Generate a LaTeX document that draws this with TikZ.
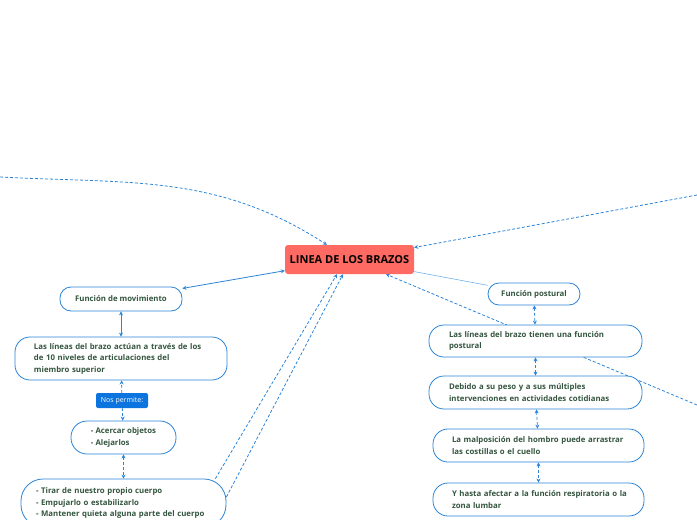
\documentclass[tikz,border=0pt]{standalone}
\usepackage{fontspec}
\setmainfont{Open Sans}
\usetikzlibrary{arrows.meta,positioning,calc,backgrounds}
\definecolor{linkblue}{HTML}{2A84D8}
\definecolor{paleblue}{HTML}{6FB1EC}
\definecolor{nosblue}{HTML}{0B74DE}
\definecolor{titlered}{HTML}{FF6A63}
\definecolor{txtgreen}{HTML}{34553F}

\begin{document}
\begin{tikzpicture}[x=1pt, y=-1pt, >={Stealth[length=4pt,width=4pt]},
    every node/.style={font=\bfseries\fontsize{7.8}{11.5}\selectfont, text=txtgreen},
    box/.style={draw=linkblue, line width=0.8pt, fill=white, rounded corners=15pt, align=left, inner xsep=20pt, inner ysep=0pt},
    pill/.style={draw=linkblue, line width=0.8pt, fill=white, rounded corners=11pt, align=left, inner sep=0pt},
    link/.style={linkblue, line width=0.8pt},
    dlink/.style={linkblue, line width=0.8pt, dash pattern=on 3pt off 2pt}]
    \useasboundingbox (0,0) rectangle (697,520);

    \node[fill=titlered, rounded corners=3pt, minimum width=129pt, minimum height=29pt, inner sep=0pt, text=black, font=\bfseries\fontsize{11}{13}\selectfont] (c) at (349.5,259.5) {LINEA DE LOS BRAZOS};

    % movimiento
    \node[pill, minimum width=122pt, minimum height=24pt] (m0) at (121,299) {Función de movimiento};
    \node[box, inner xsep=19pt, text width=174pt, minimum height=43pt] (m1) at (121,358.5) {Las líneas del brazo actúan a través de los\\de 10 niveles de articulaciones del\\miembro superior};
    \node[fill=nosblue, rounded corners=2pt, minimum width=52pt, minimum height=15pt, inner sep=0pt, text=white, font=\fontsize{7}{8}\selectfont] (m2) at (122,400.5) {Nos permite:};
    \node[pill, rounded corners=16pt, minimum width=105pt, minimum height=33pt] (m3) at (123.5,437.5) {- Acercar objetos\\- Alejarlos};
    \node[box, rounded corners=22pt, inner xsep=15pt, text width=175pt, minimum height=48pt] (m4) at (123.5,503) {- Tirar de nuestro propio cuerpo\\- Empujarlo o estabilizarlo\\- Mantener quieta alguna parte del cuerpo};

    % postural
    \node[pill, minimum width=92pt, minimum height=22pt] (p0) at (534,294) {Función postural};
    \node[box, text width=173pt, minimum height=32pt] (p1) at (535.5,341) {Las líneas del brazo tienen una función\\postural};
    \node[box, text width=173pt, minimum height=33pt] (p2) at (535.5,392.5) {Debido a su peso y a sus múltiples\\intervenciones en actividades cotidianas};
    \node[box, inner xsep=19pt, text width=173pt, minimum height=33pt] (p3) at (538.5,445.5) {La malposición del hombro puede arrastrar\\las costillas o el cuello};
    \node[box, inner xsep=17pt, text width=177pt, minimum height=33pt] (p4) at (538.5,499.5) {\hspace*{2pt}Y hasta afectar a la función respiratoria o la\\\hspace*{2pt}zona lumbar};

    \coordinate (l0) at (0,177);
    \coordinate (r0) at (697,195);
    \coordinate (r1) at (697,405);

    \draw[link, <->] (c) -- (m0);
    \draw[link, <->] (m0) -- (m1);
    \draw[dlink, ->] (m2) -- (m1);
    \draw[dlink, ->] (m2) -- (m3);
    \draw[dlink, <->] (m3) -- (m4);
    \draw[dlink, ->] ([xshift=-11pt]m4.north east) -- ([xshift=-12.5pt]c.south);
    \draw[dlink, ->] ([yshift=6pt]m4.east) -- ([xshift=-6.5pt]c.south);

    \draw[paleblue, line width=0.6pt] (c) -- (p0);
    \draw[dlink, <->] (p0) -- (p1);
    \draw[dlink, <->] (p1) -- (p2);
    \draw[dlink, <->] (p2) -- (p3);
    \draw[dlink, <->] (p3) -- (p4);

    \draw[dlink, ->] (l0) to[out=-3, in=147] (c);
    \draw[dlink, ->] (r0) -- (c);
    \begin{scope}[on background layer]
        \draw[dlink, ->] (r1) -- ([xshift=36.5pt]c.south);
    \end{scope}
\end{tikzpicture}
\end{document}
